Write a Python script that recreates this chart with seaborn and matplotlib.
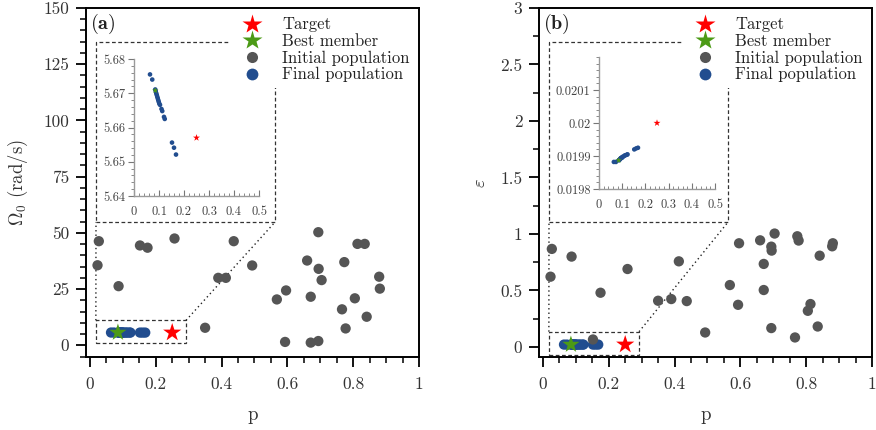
import numpy as np
import pandas as pd
import matplotlib
matplotlib.use("Agg")
import matplotlib.pyplot as plt
import seaborn as sns
from matplotlib.patches import Rectangle
from matplotlib.lines import Line2D
from matplotlib.ticker import MultipleLocator, FuncFormatter, FixedLocator

# ---------------- data ----------------
p_init = [0.023, 0.027, 0.087, 0.152, 0.175, 0.257, 0.350, 0.390, 0.413, 0.437,
          0.493, 0.568, 0.593, 0.596, 0.660, 0.671, 0.671, 0.694, 0.694, 0.695,
          0.704, 0.766, 0.773, 0.777, 0.805, 0.813, 0.835, 0.841, 0.879, 0.881]
omega_init = [35.6, 46.3, 26.3, 44.4, 43.4, 47.5, 7.8, 30.0, 30.0, 46.3,
              35.5, 20.4, 1.5, 24.4, 37.7, 21.6, 1.2, 1.9, 50.3, 34.0,
              29.0, 16.0, 37.0, 7.5, 20.9, 45.1, 45.1, 12.7, 30.5, 25.2]
eps_init = [0.621, 0.867, 0.799, 0.065, 0.479, 0.689, 0.408, 0.423, 0.757, 0.405,
            0.127, 0.547, 0.372, 0.917, 0.943, 0.734, 0.503, 0.166, 0.887, 0.852,
            1.003, 0.083, 0.979, 0.941, 0.319, 0.379, 0.180, 0.807, 0.890, 0.917]

p_final = [0.064, 0.073, 0.085, 0.087, 0.089, 0.091, 0.093, 0.095, 0.097, 0.099,
           0.101, 0.104, 0.110, 0.113, 0.120, 0.123, 0.152, 0.160, 0.168]
omega_final = [5.6755, 5.6740, 5.6711, 5.6706, 5.6700, 5.6695, 5.6690, 5.6685, 5.6680, 5.6675,
               5.6670, 5.6666, 5.6654, 5.6648, 5.6631, 5.6625, 5.6556, 5.6541, 5.6521]
eps_final = [0.019882, 0.019882, 0.019887, 0.019888, 0.019889, 0.019891, 0.019893, 0.019894,
             0.019894, 0.019895, 0.019897, 0.019898, 0.019901, 0.019902, 0.019904, 0.019905,
             0.019920, 0.019923, 0.019925]

p_best = [0.085]
omega_best = [5.6708]
eps_best = [0.019887]

p_target = [0.25]
omega_target = [5.657]
eps_target = [0.02]

legend_labels = ["Target", "Best member", "Initial population", "Final population"]

C_RED = "#ff0000"
C_GREEN = "#4c9a16"
C_GRAY = "#555555"
C_BLUE = "#214d8f"
TXT = "#333333"

# ---------------- style ----------------
sns.set_theme(style="ticks")
plt.rcParams.update({
    "font.family": ["cmr10", "DejaVu Serif"],
    "mathtext.fontset": "cm",
    "axes.formatter.use_mathtext": True,
    "axes.unicode_minus": False,
    "axes.edgecolor": "black",
    "axes.linewidth": 1.4,
    "xtick.color": "black",
    "ytick.color": "black",
    "xtick.labelcolor": TXT,
    "ytick.labelcolor": TXT,
})

fig = plt.figure(figsize=(8.76, 4.30), dpi=100)
W, H = 876, 430

def fa(l, r, t, b):
    return [l / W, (H - b) / H, (r - l) / W, (b - t) / H]

ax1 = fig.add_axes(fa(86, 419, 8, 357))
ax2 = fig.add_axes(fa(539, 872, 8, 357))
ins1 = fig.add_axes(fa(134, 259, 59, 196))
ins2 = fig.add_axes(fa(599, 715, 57, 189))

fmt = FuncFormatter(lambda v, pos: f"{v:g}")

df_init_a = pd.DataFrame({"p": p_init, "v": omega_init})
df_init_b = pd.DataFrame({"p": p_init, "v": eps_init})
df_fin_a = pd.DataFrame({"p": p_final, "v": omega_final})
df_fin_b = pd.DataFrame({"p": p_final, "v": eps_final})
df_best_a = pd.DataFrame({"p": p_best, "v": omega_best})
df_best_b = pd.DataFrame({"p": p_best, "v": eps_best})
df_tgt_a = pd.DataFrame({"p": p_target, "v": omega_target})
df_tgt_b = pd.DataFrame({"p": p_target, "v": eps_target})


def draw_main(ax, fin, ini, best, tgt, ylim, ymaj, ymin, ylabel, tag, ypad):
    sns.scatterplot(data=fin, x="p", y="v", ax=ax, color=C_BLUE, s=55,
                    edgecolor="none", legend=False, zorder=3)
    sns.scatterplot(data=ini, x="p", y="v", ax=ax, color=C_GRAY, s=55,
                    edgecolor="none", legend=False, zorder=3)
    sns.scatterplot(data=tgt, x="p", y="v", ax=ax, color=C_RED, s=190, marker="*",
                    edgecolor="none", legend=False, zorder=4)
    sns.scatterplot(data=best, x="p", y="v", ax=ax, color=C_GREEN, s=170, marker="*",
                    edgecolor="none", legend=False, zorder=4)
    ax.set_xlim(-0.012, 1.0)
    ax.set_ylim(*ylim)
    ax.xaxis.set_major_locator(MultipleLocator(0.2))
    ax.xaxis.set_minor_locator(MultipleLocator(0.05))
    ax.yaxis.set_major_locator(MultipleLocator(ymaj))
    ax.yaxis.set_minor_locator(MultipleLocator(ymin))
    ax.xaxis.set_major_formatter(fmt)
    ax.yaxis.set_major_formatter(fmt)
    ax.tick_params(which="major", direction="out", length=7, width=1.3, labelsize=12.5, pad=5)
    ax.tick_params(which="minor", direction="out", length=4.5, width=1.1)
    ax.tick_params(axis="x", which="major", pad=7)
    ax.set_xlabel("p", fontsize=13.5, color=TXT, labelpad=10)
    ax.set_ylabel(ylabel, fontsize=13.5, color=TXT, labelpad=ypad)
    for sp in ax.spines.values():
        sp.set_visible(True)
        sp.set_linewidth(1.4)
    ax.text(0.012, 0.988, tag, transform=ax.transAxes, ha="left", va="top",
            fontsize=14.5, color="#222222", zorder=6)

    # dashed frame around inset and around the zoomed region
    big = Rectangle((0.030, 0.387), 0.538, 0.516, transform=ax.transAxes, fill=False,
                    ls=(0, (3, 2)), lw=0.9, ec="#333333", zorder=2)
    ax.add_patch(big)
    x0, x1 = 0.018, 0.292
    if ylim[1] > 10:
        y0, y1 = 1.0, 11.1
    else:
        y0, y1 = -0.069, 0.134
    small = Rectangle((x0, y0), x1 - x0, y1 - y0, fill=False, ls=(0, (3, 2)), lw=0.9,
                      ec="#333333", zorder=2)
    ax.add_patch(small)
    trans_ax = ax.transAxes
    trans_d = ax.transData
    inv = ax.transAxes.inverted()
    for (xd, yd), (xa, ya) in [((x0, y1), (0.030, 0.387)), ((x1, y1), (0.568, 0.387))]:
        pa = inv.transform(trans_d.transform((xd, yd)))
        ax.add_line(Line2D([pa[0], xa], [pa[1], ya], transform=trans_ax, ls=(0, (1, 2.2)),
                           lw=1.0, color="#222222", zorder=2))

    handles = [
        Line2D([], [], ls="none", marker="*", ms=15, color=C_RED, mec="none"),
        Line2D([], [], ls="none", marker="*", ms=15, color=C_GREEN, mec="none"),
        Line2D([], [], ls="none", marker="o", ms=8, color=C_GRAY, mec="none"),
        Line2D([], [], ls="none", marker="o", ms=8.5, color=C_BLUE, mec="none"),
    ]
    leg = ax.legend(handles, legend_labels, loc="upper right", bbox_to_anchor=(1.0, 1.0),
                    frameon=True, facecolor="white", edgecolor="none", framealpha=1,
                    fontsize=12, handlelength=2.0, handletextpad=0.8, labelspacing=0.08,
                    borderpad=0.35, borderaxespad=0.2)
    for t in leg.get_texts():
        t.set_color("#222222")
    leg.set_zorder(5)


draw_main(ax1, df_fin_a, df_init_a, df_best_a, df_tgt_a, (-5.2, 150), 25, 5,
          r"$\Omega_0$ (rad/s)", r"$\mathbf{(a)}$", 10)
draw_main(ax2, df_fin_b, df_init_b, df_best_b, df_tgt_b, (-0.09, 3.0), 0.5, 0.25,
          r"$\varepsilon$", r"$\mathbf{(b)}$", 8)


def draw_inset(ax, fin, best, tgt, ylim, yticks, yminor, xminor=0.02):
    sns.scatterplot(data=fin, x="p", y="v", ax=ax, color=C_BLUE, s=11,
                    edgecolor="none", legend=False, zorder=3)
    sns.scatterplot(data=tgt, x="p", y="v", ax=ax, color=C_RED, s=28, marker="*",
                    edgecolor="none", legend=False, zorder=4)
    sns.scatterplot(data=best, x="p", y="v", ax=ax, color=C_GREEN, s=22, marker="*",
                    edgecolor="none", legend=False, zorder=4)
    ax.set_facecolor("none")
    ax.set_xlim(0, 0.5)
    ax.set_ylim(*ylim)
    ax.xaxis.set_major_locator(MultipleLocator(0.1))
    ax.xaxis.set_minor_locator(MultipleLocator(xminor))
    ax.yaxis.set_major_locator(FixedLocator(yticks))
    ax.yaxis.set_minor_locator(MultipleLocator(yminor))
    ax.xaxis.set_major_formatter(fmt)
    ax.yaxis.set_major_formatter(fmt)
    for s in ["top", "right"]:
        ax.spines[s].set_visible(False)
    for s in ["left", "bottom"]:
        ax.spines[s].set_color("#9a9a9a")
        ax.spines[s].set_linewidth(1.0)
    ax.tick_params(axis="x", which="major", direction="in", length=4, width=0.8,
                   color="#777777", labelsize=9, labelcolor="#444444", pad=7)
    ax.tick_params(axis="x", which="minor", direction="in", length=2, width=0.6,
                   color="#777777")
    ax.tick_params(axis="y", which="major", direction="out", length=4, width=0.8,
                   color="#777777", labelsize=9, labelcolor="#444444", pad=2)
    ax.tick_params(axis="y", which="minor", direction="out", length=2, width=0.6,
                   color="#777777")
    ax.set_xlabel("")
    ax.set_ylabel("")


draw_inset(ins1, df_fin_a, df_best_a, df_tgt_a, (5.64, 5.68),
           [5.64, 5.65, 5.66, 5.67, 5.68], 0.002)
draw_inset(ins2, df_fin_b, df_best_b, df_tgt_b, (0.0198, 0.0202),
           [0.0198, 0.0199, 0.02, 0.0201], 0.00002)

fig.savefig("out.png", dpi=100)
